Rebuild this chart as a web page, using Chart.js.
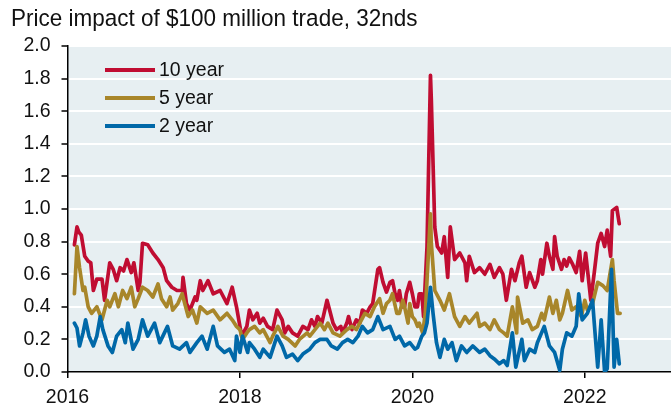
<!DOCTYPE html>
<html><head><meta charset="utf-8">
<script src="https://cdn.jsdelivr.net/npm/chart.js@4/dist/chart.umd.min.js"></script>
<style>
html,body{margin:0;padding:0;background:#fff;}
#wrap{position:relative;width:671px;height:407px;overflow:hidden;}
#title{position:absolute;left:11px;top:4px;font-family:"Liberation Sans",Arial,sans-serif;font-size:22.5px;color:#111;white-space:nowrap;transform-origin:0 0;transform:scaleY(1.1);}
canvas{position:absolute;left:0;top:0;}
</style></head><body>
<div id="wrap"><canvas id="c" width="671" height="407"></canvas><div id="title">Price impact of $100 million trade, 32nds</div></div>
<script>
// ---- data (decimal years, price impact in 32nds) ----
const seriesLabels = ["10 year", "5 year", "2 year"];
const xTickYears = [2016, 2018, 2020, 2022];

const tenYearDates = [2016.08,2016.11,2016.13,2016.16,2016.20,2016.24,2016.27,2016.30,2016.34,2016.40,2016.43,2016.49,2016.53,2016.57,2016.61,2016.65,2016.69,2016.74,2016.77,2016.82,2016.84,2016.87,2016.93,2016.99,2017.05,2017.11,2017.15,2017.21,2017.27,2017.33,2017.34,2017.38,2017.42,2017.48,2017.50,2017.54,2017.57,2017.63,2017.69,2017.77,2017.85,2017.91,2017.96,2018.02,2018.08,2018.11,2018.15,2018.20,2018.23,2018.27,2018.32,2018.38,2018.43,2018.49,2018.52,2018.56,2018.61,2018.67,2018.73,2018.79,2018.83,2018.87,2018.90,2018.95,2019.01,2019.04,2019.08,2019.12,2019.17,2019.19,2019.24,2019.26,2019.30,2019.35,2019.39,2019.42,2019.47,2019.51,2019.54,2019.60,2019.62,2019.66,2019.70,2019.74,2019.77,2019.80,2019.83,2019.85,2019.88,2019.91,2019.93,2019.97,2020.00,2020.03,2020.06,2020.08,2020.11,2020.13,2020.17,2020.21,2020.22,2020.26,2020.29,2020.34,2020.37,2020.41,2020.44,2020.49,2020.55,2020.61,2020.63,2020.66,2020.72,2020.78,2020.84,2020.90,2020.95,2021.01,2021.05,2021.09,2021.15,2021.19,2021.24,2021.27,2021.32,2021.36,2021.42,2021.45,2021.49,2021.51,2021.56,2021.59,2021.63,2021.65,2021.68,2021.73,2021.76,2021.79,2021.82,2021.86,2021.90,2021.94,2021.97,2022.01,2022.07,2022.11,2022.15,2022.19,2022.23,2022.26,2022.30,2022.32,2022.37,2022.40];
const tenYearValues = [0.78,0.89,0.86,0.84,0.71,0.68,0.67,0.50,0.57,0.57,0.44,0.67,0.63,0.56,0.64,0.62,0.69,0.61,0.67,0.50,0.55,0.79,0.78,0.73,0.69,0.64,0.56,0.52,0.50,0.50,0.58,0.42,0.38,0.46,0.44,0.56,0.50,0.56,0.48,0.50,0.42,0.52,0.40,0.22,0.28,0.38,0.32,0.36,0.30,0.33,0.28,0.26,0.38,0.32,0.24,0.28,0.24,0.22,0.28,0.26,0.32,0.28,0.34,0.30,0.44,0.38,0.30,0.26,0.28,0.24,0.30,0.34,0.26,0.32,0.30,0.38,0.36,0.40,0.42,0.63,0.64,0.55,0.49,0.55,0.56,0.48,0.44,0.50,0.40,0.40,0.48,0.55,0.48,0.40,0.40,0.48,0.48,0.34,0.77,1.82,1.67,0.89,0.77,0.73,0.83,0.58,0.89,0.69,0.73,0.67,0.56,0.71,0.61,0.64,0.60,0.66,0.58,0.64,0.60,0.44,0.63,0.56,0.67,0.71,0.52,0.61,0.52,0.56,0.69,0.60,0.79,0.71,0.63,0.83,0.71,0.63,0.69,0.65,0.70,0.66,0.61,0.74,0.56,0.73,0.44,0.61,0.79,0.85,0.77,0.87,0.71,0.99,1.01,0.91];

const fiveYearDates = [2016.08,2016.11,2016.14,2016.18,2016.20,2016.24,2016.28,2016.34,2016.40,2016.46,2016.49,2016.55,2016.59,2016.64,2016.69,2016.74,2016.78,2016.82,2016.87,2016.93,2016.99,2017.05,2017.09,2017.15,2017.19,2017.22,2017.28,2017.33,2017.40,2017.45,2017.50,2017.54,2017.62,2017.69,2017.77,2017.85,2017.91,2017.96,2018.00,2018.03,2018.08,2018.11,2018.17,2018.23,2018.27,2018.35,2018.38,2018.44,2018.50,2018.56,2018.64,2018.69,2018.78,2018.81,2018.87,2018.93,2018.98,2019.02,2019.08,2019.16,2019.24,2019.30,2019.35,2019.39,2019.45,2019.51,2019.56,2019.62,2019.66,2019.70,2019.74,2019.77,2019.82,2019.85,2019.89,2019.91,2019.95,2019.97,2020.00,2020.03,2020.06,2020.08,2020.12,2020.15,2020.21,2020.22,2020.26,2020.32,2020.37,2020.43,2020.49,2020.55,2020.61,2020.66,2020.75,2020.78,2020.84,2020.90,2020.95,2021.01,2021.06,2021.10,2021.16,2021.21,2021.22,2021.28,2021.34,2021.39,2021.45,2021.50,2021.53,2021.59,2021.63,2021.67,2021.71,2021.74,2021.80,2021.85,2021.90,2021.96,2022.00,2022.03,2022.09,2022.15,2022.21,2022.26,2022.32,2022.34,2022.38,2022.41];
const fiveYearValues = [0.48,0.77,0.64,0.50,0.52,0.40,0.36,0.40,0.32,0.44,0.40,0.48,0.40,0.50,0.45,0.52,0.40,0.45,0.52,0.50,0.46,0.54,0.45,0.40,0.46,0.38,0.42,0.48,0.34,0.38,0.30,0.40,0.36,0.38,0.32,0.36,0.32,0.28,0.26,0.20,0.24,0.26,0.28,0.24,0.26,0.18,0.22,0.28,0.22,0.20,0.16,0.20,0.24,0.22,0.26,0.30,0.26,0.30,0.24,0.22,0.26,0.28,0.26,0.30,0.36,0.34,0.40,0.45,0.36,0.42,0.44,0.48,0.36,0.36,0.44,0.40,0.30,0.42,0.34,0.32,0.28,0.30,0.24,0.36,0.97,0.79,0.50,0.44,0.38,0.48,0.34,0.28,0.34,0.30,0.36,0.28,0.30,0.26,0.32,0.26,0.24,0.22,0.40,0.24,0.46,0.30,0.32,0.26,0.28,0.36,0.32,0.46,0.36,0.44,0.32,0.36,0.50,0.38,0.40,0.34,0.44,0.38,0.42,0.55,0.53,0.50,0.69,0.56,0.36,0.36];

const twoYearDates = [2016.08,2016.11,2016.14,2016.18,2016.21,2016.25,2016.30,2016.34,2016.38,2016.41,2016.47,2016.52,2016.57,2016.63,2016.67,2016.70,2016.76,2016.82,2016.87,2016.93,2017.01,2017.07,2017.16,2017.22,2017.30,2017.38,2017.42,2017.50,2017.56,2017.62,2017.69,2017.74,2017.82,2017.88,2017.94,2017.96,2018.00,2018.03,2018.09,2018.11,2018.17,2018.23,2018.27,2018.35,2018.43,2018.49,2018.54,2018.61,2018.67,2018.73,2018.81,2018.87,2018.93,2019.01,2019.06,2019.13,2019.19,2019.25,2019.31,2019.37,2019.42,2019.48,2019.54,2019.60,2019.66,2019.74,2019.80,2019.85,2019.91,2019.97,2020.03,2020.06,2020.11,2020.14,2020.17,2020.21,2020.24,2020.28,2020.32,2020.37,2020.41,2020.46,2020.51,2020.57,2020.63,2020.70,2020.78,2020.84,2020.90,2020.95,2021.01,2021.06,2021.10,2021.16,2021.20,2021.27,2021.30,2021.36,2021.42,2021.45,2021.53,2021.59,2021.65,2021.71,2021.74,2021.79,2021.85,2021.90,2021.93,2021.97,2022.03,2022.09,2022.11,2022.15,2022.19,2022.23,2022.26,2022.31,2022.34,2022.37,2022.40];
const twoYearValues = [0.30,0.27,0.16,0.24,0.32,0.22,0.16,0.22,0.34,0.26,0.16,0.12,0.22,0.26,0.18,0.30,0.14,0.20,0.32,0.22,0.30,0.18,0.28,0.16,0.14,0.18,0.12,0.18,0.22,0.14,0.28,0.16,0.12,0.14,0.07,0.22,0.12,0.22,0.12,0.18,0.14,0.09,0.14,0.09,0.22,0.16,0.09,0.11,0.07,0.11,0.14,0.18,0.20,0.20,0.16,0.14,0.18,0.20,0.18,0.22,0.28,0.24,0.26,0.34,0.26,0.28,0.20,0.22,0.16,0.18,0.14,0.15,0.22,0.24,0.30,0.52,0.36,0.18,0.09,0.20,0.14,0.18,0.07,0.16,0.12,0.16,0.12,0.14,0.10,0.08,0.05,0.07,0.04,0.24,0.03,0.20,0.07,0.14,0.12,0.18,0.28,0.16,0.12,0.01,0.14,0.24,0.22,0.28,0.48,0.32,0.36,0.44,0.30,0.03,0.32,0.00,0.02,0.63,0.03,0.20,0.05];

// ---- chart ----
const FONT = '"Liberation Sans", Arial, sans-serif';
const colors = ["#c00d32", "#a8862a", "#0068a8"];
const pair = (d, v) => d.map((x, i) => ({x: x, y: v[i]}));

const bgPlugin = {
  id: 'plotBg',
  beforeDraw(chart) {
    const a = chart.chartArea, ctx = chart.ctx;
    ctx.save();
    ctx.fillStyle = '#e7eff2';
    ctx.fillRect(a.left, a.top, a.right - a.left, a.bottom - a.top);
    ctx.restore();
  }
};
const legendPlugin = {
  id: 'insideLegend',
  afterDraw(chart) {
    const ctx = chart.ctx;
    ctx.save();
    chart.data.datasets.forEach((ds, i) => {
      const y = 70 + i * 28;
      ctx.strokeStyle = ds.borderColor;
      ctx.lineWidth = 4;
      ctx.beginPath(); ctx.moveTo(105, y); ctx.lineTo(155, y); ctx.stroke();
      ctx.fillStyle = '#111';
      ctx.font = '19.5px ' + FONT;
      ctx.textAlign = 'left'; ctx.textBaseline = 'middle';
      ctx.fillText(ds.label, 159, y + 1);
    });
    ctx.restore();
  }
};

new Chart(document.getElementById('c'), {
  type: 'line',
  data: {
    datasets: [
      {label: seriesLabels[0], data: pair(tenYearDates, tenYearValues), borderColor: colors[0], order: 3},
      {label: seriesLabels[1], data: pair(fiveYearDates, fiveYearValues), borderColor: colors[1], order: 2},
      {label: seriesLabels[2], data: pair(twoYearDates, twoYearValues), borderColor: colors[2], order: 1}
    ]
  },
  options: {
    responsive: false, animation: false, devicePixelRatio: 1,
    layout: {padding: {top: 46, right: 0, bottom: 0, left: 0}},
    elements: {
      point: {radius: 0},
      line: {borderWidth: 3.7, tension: 0, borderJoinStyle: 'round', borderCapStyle: 'round', fill: false}
    },
    plugins: {legend: {display: false}, title: {display: false}, tooltip: {enabled: false}},
    scales: {
      x: {
        type: 'linear', min: 2016, max: 2023,
        afterBuildTicks: s => { s.ticks = xTickYears.map(v => ({value: v})); },
        afterFit: s => { s.height = 35; },
        ticks: {font: {family: FONT, size: 19.5}, color: '#111', padding: 8, maxRotation: 0, autoSkip: false, callback: v => String(v)},
        grid: {drawOnChartArea: false, drawTicks: true, tickLength: 6, color: '#000', lineWidth: 1.5},
        border: {color: '#000', width: 1.5}
      },
      y: {
        min: 0, max: 2,
        afterFit: s => { s.width = 67.5; },
        ticks: {stepSize: 0.2, font: {family: FONT, size: 19.5}, color: '#111', padding: 11, callback: v => Number(v).toFixed(1)},
        grid: {color: ctx => (ctx.tick && Math.abs(ctx.tick.value) < 1e-6) ? 'rgba(0,0,0,0)' : '#ffffff', lineWidth: 2, tickColor: '#000', tickLength: 6, tickWidth: 1.5},
        border: {color: '#000', width: 1.5}
      }
    }
  },
  plugins: [bgPlugin, legendPlugin]
});
</script>
</body></html>
